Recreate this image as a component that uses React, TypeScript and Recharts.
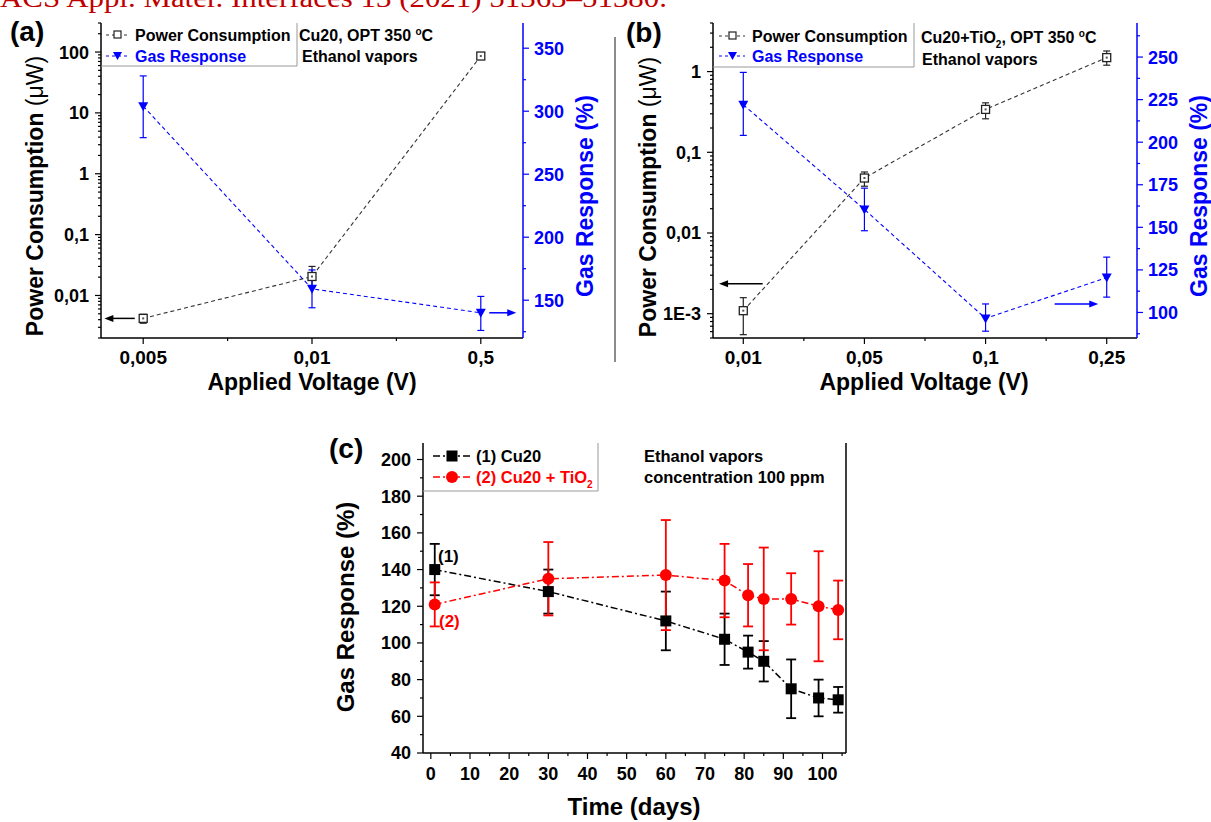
import React from "react";
import { ComposedChart, Line, XAxis, YAxis, ErrorBar, ReferenceLine } from "recharts";

// ---- data ----
const A_VOLTS = ["0,005", "0,01", "0,5"];
const A_POWER = [0.0042, 0.0205, 86];
const A_POWER_LO = [0.0035, 0.014, 78];
const A_POWER_HI = [0.0049, 0.03, 95];
const A_GAS = [304, 159, 140];
const A_GAS_LO = [279, 144, 126];
const A_GAS_HI = [328, 174, 153];

const B_VOLTS = ["0,01", "0,05", "0,1", "0,25"];
const B_POWER = [0.00109, 0.048, 0.34, 1.49];
const B_POWER_LO = [0.00055, 0.038, 0.26, 1.2];
const B_POWER_HI = [0.00158, 0.057, 0.41, 1.8];
const B_GAS = [222, 160.5, 96.5, 120.5];
const B_GAS_LO = [204, 148, 89, 109];
const B_GAS_HI = [241, 173, 105, 132.5];

const C_DAYS = [1, 30, 60, 75, 81, 85, 92, 99, 104];
const C_CU20 = [140, 128, 112, 102, 95, 90, 75, 70, 69];
const C_CU20_ERR = [14, 12, 16, 14, 9, 11, 16, 10, 7];
const C_TIO2 = [121, 135, 137, 134, 126, 124, 124, 120, 118];
const C_TIO2_ERR = [12, 20, 30, 20, 17, 28, 14, 30, 16];

const FONT = "'Liberation Sans', Arial, sans-serif";
const BLUE = "#0000ff";
const RED = "#ff0000";

const logTicks = (lo: number, hi: number) => {
  const out: number[] = [];
  for (let e = -5; e <= 3; e++) {
    const d = Math.pow(10, e);
    for (let m = 1; m <= 9; m++) {
      const v = +(d * m).toPrecision(6);
      if (v >= lo && v <= hi) out.push(v);
    }
  }
  return out;
};

const LeftTick = ({ x, y, payload, majors, fmt, color = "#000", fs = 18 }: any) => {
  const major = majors.includes(payload.value);
  const len = major ? 6 : 3;
  return (
    <g>
      <line x1={x - len} x2={x} y1={y} y2={y} stroke={color} strokeWidth={1.2} />
      {major && (
        <text x={x - 12} y={y} dy="0.36em" textAnchor="end" fill={color} fontSize={fs} fontWeight="bold" fontFamily={FONT}>
          {fmt(payload.value)}
        </text>
      )}
    </g>
  );
};

const RightTick = ({ x, y, payload, majors, color = BLUE, fs = 18 }: any) => {
  const major = majors.includes(payload.value);
  const len = major ? 6 : 3;
  return (
    <g>
      <line x1={x} x2={x + len} y1={y} y2={y} stroke={color} strokeWidth={1.2} />
      {major && (
        <text x={x + 11} y={y} dy="0.36em" textAnchor="start" fill={color} fontSize={fs} fontWeight="bold" fontFamily={FONT}>
          {payload.value}
        </text>
      )}
    </g>
  );
};

const BottomTick = ({ x, y, payload, labelOf, fs = 19, off = 23 }: any) => {
  const label = labelOf(payload.value);
  const len = label != null ? 6 : 3;
  return (
    <g>
      <line x1={x} x2={x} y1={y} y2={y + len} stroke="#000" strokeWidth={1.2} />
      {label != null && (
        <text x={x} y={y + off} textAnchor="middle" fill="#000" fontSize={fs} fontWeight="bold" fontFamily={FONT}>
          {label}
        </text>
      )}
    </g>
  );
};

const OpenSquare = (p: any) => {
  if (p.cx == null || p.cy == null) return <g key={`s${p.index}`} />;
  return (
    <g key={`s${p.index}`}>
      <rect x={p.cx - 4} y={p.cy - 4} width={8} height={8} fill="#fff" stroke="#222" strokeWidth={1.3} />
      <rect x={p.cx - 1} y={p.cy - 1} width={2} height={2} fill="#555" />
    </g>
  );
};

const DownTri = (p: any) => {
  if (p.cx == null || p.cy == null) return <g key={`t${p.index}`} />;
  const { cx, cy } = p;
  return <path key={`t${p.index}`} d={`M${cx - 5},${cy - 4} L${cx + 5},${cy - 4} L${cx},${cy + 5} Z`} fill={BLUE} />;
};

const FilledSquare = (p: any) => {
  if (p.cx == null || p.cy == null) return <g key={`f${p.index}`} />;
  return <rect key={`f${p.index}`} x={p.cx - 5.5} y={p.cy - 5.5} width={11} height={11} fill="#000" />;
};

const FilledCircle = (p: any) => {
  if (p.cx == null || p.cy == null) return <g key={`c${p.index}`} />;
  return <circle key={`c${p.index}`} cx={p.cx} cy={p.cy} r={6} fill={RED} />;
};

const arrowShape = (color: string) => (p: any) => {
  const { x1, y1, x2, y2 } = p;
  if ([x1, y1, x2, y2].some((v) => v == null || isNaN(v))) return <g />;
  const dir = x2 > x1 ? 1 : -1;
  return (
    <g>
      <line x1={x1} y1={y1} x2={x2 - dir * 6} y2={y2} stroke={color} strokeWidth={1.5} />
      <path d={`M${x2},${y2} L${x2 - dir * 9},${y2 - 3.5} L${x2 - dir * 9},${y2 + 3.5} Z`} fill={color} />
    </g>
  );
};

function VoltChart(props: any) {
  const {
    w, h, leftW, rightW, mRight, labels, power, pLo, pHi, gas, gLo, gHi,
    logDomain, logMajors, logFmt, gasDomain, gasMajors, gasMinors, lArrow, rArrow,
  } = props;
  const data = labels.map((l: string, i: number) => ({
    i,
    power: power[i],
    pErr: [power[i] - pLo[i], pHi[i] - power[i]],
    gas: gas[i],
    gErr: [gas[i] - gLo[i], gHi[i] - gas[i]],
  }));
  const n = labels.length;
  const xDomain = [-0.25, n - 0.75];
  const xTicks: number[] = [];
  for (let k = 0; k < n; k++) {
    xTicks.push(k);
    if (k < n - 1) xTicks.push(k + 0.5);
  }
  const lTicks = logTicks(logDomain[0], logDomain[1]);
  const rTicks = [...gasMajors, ...gasMinors].sort((a: number, b: number) => a - b);
  return (
    <ComposedChart width={w} height={h} data={data} margin={{ top: 23, right: mRight, bottom: 0, left: 0 }}>
      <XAxis
        xAxisId="x" dataKey="i" type="number" domain={xDomain} ticks={xTicks} interval={0} allowDataOverflow
        height={72} tickSize={0} tickMargin={0} tickLine={false} axisLine={{ stroke: "#000", strokeWidth: 1.5 }}
        tick={(p: any) => (
          <BottomTick {...p} fs={19} off={26}
            labelOf={(v: number) => (Number.isInteger(v) ? labels[v] : null)} />
        )}
      />
      <XAxis xAxisId="top" orientation="top" type="number" domain={xDomain} allowDataOverflow height={0}
        tick={false} tickLine={false} axisLine={{ stroke: "#000", strokeWidth: 1.5 }} />
      <YAxis
        yAxisId="l" scale="log" type="number" domain={logDomain} allowDataOverflow ticks={lTicks} interval={0}
        width={leftW} tickSize={0} tickMargin={0} tickLine={false} axisLine={{ stroke: "#000", strokeWidth: 1.5 }}
        tick={(p: any) => <LeftTick {...p} majors={logMajors} fmt={logFmt} />}
      />
      <YAxis
        yAxisId="r" orientation="right" type="number" domain={gasDomain} allowDataOverflow ticks={rTicks} interval={0}
        width={rightW} tickSize={0} tickMargin={0} tickLine={false} axisLine={{ stroke: BLUE, strokeWidth: 1.5 }}
        tick={(p: any) => <RightTick {...p} majors={gasMajors} />}
      />
      <ReferenceLine xAxisId="x" yAxisId="l" segment={[{ x: lArrow.from, y: lArrow.y }, { x: lArrow.to, y: lArrow.y }]}
        shape={arrowShape("#000")} />
      <ReferenceLine xAxisId="x" yAxisId="r" segment={[{ x: rArrow.from, y: rArrow.y }, { x: rArrow.to, y: rArrow.y }]}
        shape={arrowShape(BLUE)} />
      <Line xAxisId="x" yAxisId="l" dataKey="power" stroke="#333" strokeWidth={1.1} strokeDasharray="4 3"
        dot={OpenSquare} activeDot={false} isAnimationActive={false}>
        <ErrorBar dataKey="pErr" direction="y" width={3.5} stroke="#222" strokeWidth={1.2} isAnimationActive={false} />
      </Line>
      <Line xAxisId="x" yAxisId="r" dataKey="gas" stroke={BLUE} strokeWidth={1.1} strokeDasharray="4 3"
        dot={DownTri} activeDot={false} isAnimationActive={false}>
        <ErrorBar dataKey="gErr" direction="y" width={3.5} stroke={BLUE} strokeWidth={1.2} isAnimationActive={false} />
      </Line>
    </ComposedChart>
  );
}

const fmtA: Record<number, string> = { 0.01: "0,01", 0.1: "0,1", 1: "1", 10: "10", 100: "100" };
const fmtB: Record<number, string> = { 0.001: "1E-3", 0.01: "0,01", 0.1: "0,1", 1: "1" };

function TimeChart() {
  const data = C_DAYS.map((d, i) => ({
    d,
    cu: C_CU20[i],
    cuErr: C_CU20_ERR[i],
    ti: C_TIO2[i],
    tiErr: C_TIO2_ERR[i],
  }));
  const xTicks: number[] = [];
  for (let v = 0; v <= 105; v += 5) xTicks.push(v);
  const yTicks: number[] = [];
  for (let v = 40; v <= 200; v += 10) yTicks.push(v);
  const yMajors = yTicks.filter((v) => v % 20 === 0);
  return (
    <ComposedChart width={560} height={402} data={data} margin={{ top: 23, right: 33, bottom: 0, left: 0 }}>
      <XAxis
        xAxisId="x" dataKey="d" type="number" domain={[-2, 106]} ticks={xTicks} interval={0} allowDataOverflow
        height={69} tickSize={0} tickMargin={0} tickLine={false} axisLine={{ stroke: "#000", strokeWidth: 1.5 }}
        tick={(p: any) => <BottomTick {...p} fs={18} off={27} labelOf={(v: number) => (v % 10 === 0 ? v : null)} />}
      />
      <XAxis xAxisId="top" orientation="top" type="number" domain={[-2, 106]} allowDataOverflow height={0}
        tick={false} tickLine={false} axisLine={{ stroke: "#000", strokeWidth: 1.5 }} />
      <YAxis
        yAxisId="l" type="number" domain={[40, 209]} allowDataOverflow ticks={yTicks} interval={0} width={103}
        tickSize={0} tickMargin={0} tickLine={false} axisLine={{ stroke: "#000", strokeWidth: 1.5 }}
        tick={(p: any) => <LeftTick {...p} majors={yMajors} fmt={(v: number) => v} />}
      />
      <YAxis yAxisId="r" orientation="right" type="number" domain={[40, 209]} width={1}
        tick={false} tickLine={false} axisLine={{ stroke: "#000", strokeWidth: 1.5 }} />
      <Line xAxisId="x" yAxisId="l" dataKey="cu" stroke="#000" strokeWidth={1.5} strokeDasharray="7 3 2 3"
        dot={FilledSquare} activeDot={false} isAnimationActive={false}>
        <ErrorBar dataKey="cuErr" direction="y" width={5} stroke="#000" strokeWidth={1.8} isAnimationActive={false} />
      </Line>
      <Line xAxisId="x" yAxisId="l" dataKey="ti" stroke={RED} strokeWidth={1.5} strokeDasharray="7 3 2 3"
        dot={FilledCircle} activeDot={false} isAnimationActive={false}>
        <ErrorBar dataKey="tiErr" direction="y" width={5} stroke={RED} strokeWidth={1.8} isAnimationActive={false} />
      </Line>
    </ComposedChart>
  );
}

const T = (p: any) => <text fontFamily={FONT} fontWeight="bold" {...p} />;

export default function App() {
  return (
    <div style={{ position: "absolute", left: 0, top: 0, width: 1211, height: 822, background: "#fff", overflow: "hidden" }}>
      <div style={{ position: "absolute", left: 0, top: 0 }}>
        <VoltChart
          w={614} h={410} leftW={101} rightW={80} mRight={11}
          labels={A_VOLTS} power={A_POWER} pLo={A_POWER_LO} pHi={A_POWER_HI}
          gas={A_GAS} gLo={A_GAS_LO} gHi={A_GAS_HI}
          logDomain={[0.002, 300]} logMajors={[0.01, 0.1, 1, 10, 100]} logFmt={(v: number) => fmtA[v]}
          gasDomain={[120, 370]} gasMajors={[150, 200, 250, 300, 350]} gasMinors={[125, 175, 225, 275, 325]}
          lArrow={{ from: -0.05, to: -0.23, y: 0.0042 }} rArrow={{ from: 2.05, to: 2.21, y: 140 }}
        />
      </div>
      <div style={{ position: "absolute", left: 614, top: 0 }}>
        <VoltChart
          w={597} h={410} leftW={99} rightW={70} mRight={4}
          labels={B_VOLTS} power={B_POWER} pLo={B_POWER_LO} pHi={B_POWER_HI}
          gas={B_GAS} gLo={B_GAS_LO} gHi={B_GAS_HI}
          logDomain={[0.0005, 4]} logMajors={[0.001, 0.01, 0.1, 1]} logFmt={(v: number) => fmtB[v]}
          gasDomain={[85, 270]} gasMajors={[100, 125, 150, 175, 200, 225, 250]}
          gasMinors={[87.5, 112.5, 137.5, 162.5, 187.5, 212.5, 237.5, 262.5]}
          lArrow={{ from: 0.16, to: -0.2, y: 0.00235 }} rArrow={{ from: 2.57, to: 2.93, y: 105 }}
        />
      </div>
      <div style={{ position: "absolute", left: 320, top: 420 }}>
        <TimeChart />
      </div>

      <svg width={1211} height={822} style={{ position: "absolute", left: 0, top: 0, pointerEvents: "none" }}>
        {/* journal header, cropped at the top edge as in the source */}
        <text x={0} y={7} fontFamily="'Liberation Serif', 'Times New Roman', serif" fontSize={27} fill="#c00000"
          textLength={667} lengthAdjust="spacingAndGlyphs">
          ACS Appl. Mater. Interfaces 13 (2021) 51363–51380.
        </text>

        {/* separator */}
        <line x1={615} y1={37} x2={615} y2={362} stroke="#666" strokeWidth={1.5} />

        {/* panel letters */}
        <T x={10} y={41} fontSize={28}>(a)</T>
        <T x={626} y={42} fontSize={28}>(b)</T>
        <T x={329} y={458} fontSize={28}>(c)</T>

        {/* panel (a) titles */}
        <T transform="translate(35,196) rotate(-90)" textAnchor="middle" dominantBaseline="central" fontSize={23}>
          Power Consumption <tspan fontWeight="normal">(μW)</tspan>
        </T>
        <T transform="translate(585,196) rotate(-90)" textAnchor="middle" dominantBaseline="central" fontSize={23} fill={BLUE}>
          Gas Response (%)
        </T>
        <T x={312} y={390} textAnchor="middle" fontSize={23}>Applied Voltage (V)</T>

        {/* panel (b) titles */}
        <T transform="translate(648,197) rotate(-90)" textAnchor="middle" dominantBaseline="central" fontSize={23}>
          Power Consumption <tspan fontWeight="normal">(μW)</tspan>
        </T>
        <T transform="translate(1199,196) rotate(-90)" textAnchor="middle" dominantBaseline="central" fontSize={23} fill={BLUE}>
          Gas Response (%)
        </T>
        <T x={924} y={390} textAnchor="middle" fontSize={23}>Applied Voltage (V)</T>

        {/* panel (c) titles */}
        <T transform="translate(345,607) rotate(-90)" textAnchor="middle" dominantBaseline="central" fontSize={24}>
          Gas Response (%)
        </T>
        <T x={634} y={815} textAnchor="middle" fontSize={24}>Time (days)</T>

        {/* legend (a) */}
        <path d="M101,66 H297 V23" fill="none" stroke="#999" strokeWidth={1} />
        <line x1={106} x2={128} y1={35} y2={35} stroke="#333" strokeDasharray="3 3" strokeWidth={1} />
        <rect x={114} y={31} width={7} height={7} fill="#fff" stroke="#222" strokeWidth={1.2} />
        <T x={135} y={35} dy="0.36em" fontSize={16}>Power Consumption</T>
        <line x1={106} x2={128} y1={56} y2={56} stroke={BLUE} strokeDasharray="3 3" strokeWidth={1} />
        <path d="M113,52 L122,52 L117.5,60 Z" fill={BLUE} />
        <T x={135} y={56} dy="0.36em" fontSize={16} fill={BLUE}>Gas Response</T>
        <T x={299} y={35} dy="0.36em" fontSize={16}>
          Cu20, OPT 350 <tspan dy={-6} fontSize={10}>o</tspan><tspan dy={6}>C</tspan>
        </T>
        <T x={302} y={56} dy="0.36em" fontSize={16}>Ethanol vapors</T>

        {/* legend (b) */}
        <path d="M713,67 H914 V23" fill="none" stroke="#999" strokeWidth={1} />
        <line x1={719} x2={745} y1={36} y2={36} stroke="#333" strokeDasharray="3 3" strokeWidth={1} />
        <rect x={729} y={32} width={7} height={7} fill="#fff" stroke="#222" strokeWidth={1.2} />
        <T x={752} y={36} dy="0.36em" fontSize={16}>Power Consumption</T>
        <line x1={719} x2={745} y1={56} y2={56} stroke={BLUE} strokeDasharray="3 3" strokeWidth={1} />
        <path d="M728,52 L737,52 L732.5,60 Z" fill={BLUE} />
        <T x={752} y={56} dy="0.36em" fontSize={16} fill={BLUE}>Gas Response</T>
        <T x={921} y={37} dy="0.36em" fontSize={16}>
          Cu20+TiO<tspan dy={5} fontSize={10}>2</tspan><tspan dy={-5}>, OPT 350 </tspan>
          <tspan dy={-6} fontSize={10}>o</tspan><tspan dy={6}>C</tspan>
        </T>
        <T x={922} y={59} dy="0.36em" fontSize={16}>Ethanol vapors</T>

        {/* legend (c) */}
        <path d="M423,491 H598 V443" fill="none" stroke="#999" strokeWidth={1} />
        <line x1={433} x2={471} y1={456} y2={456} stroke="#000" strokeDasharray="7 3 2 3" strokeWidth={1.5} />
        <rect x={446.5} y={450.5} width={11} height={11} fill="#000" />
        <T x={476} y={456} dy="0.36em" fontSize={16.5}>(1) Cu20</T>
        <line x1={433} x2={471} y1={477} y2={477} stroke={RED} strokeDasharray="7 3 2 3" strokeWidth={1.5} />
        <circle cx={452} cy={477} r={6} fill={RED} />
        <T x={476} y={477} dy="0.36em" fontSize={16.5} fill={RED}>
          (2) Cu20 + TiO<tspan dy={5} fontSize={10}>2</tspan>
        </T>
        <T x={644} y={456} dy="0.36em" fontSize={16.5}>Ethanol vapors</T>
        <T x={644} y={477} dy="0.36em" fontSize={16.5}>concentration 100 ppm</T>

        {/* series labels (c) */}
        <T x={438} y={556} dy="0.36em" fontSize={17}>(1)</T>
        <T x={439} y={621} dy="0.36em" fontSize={17} fill={RED}>(2)</T>
      </svg>
    </div>
  );
}
